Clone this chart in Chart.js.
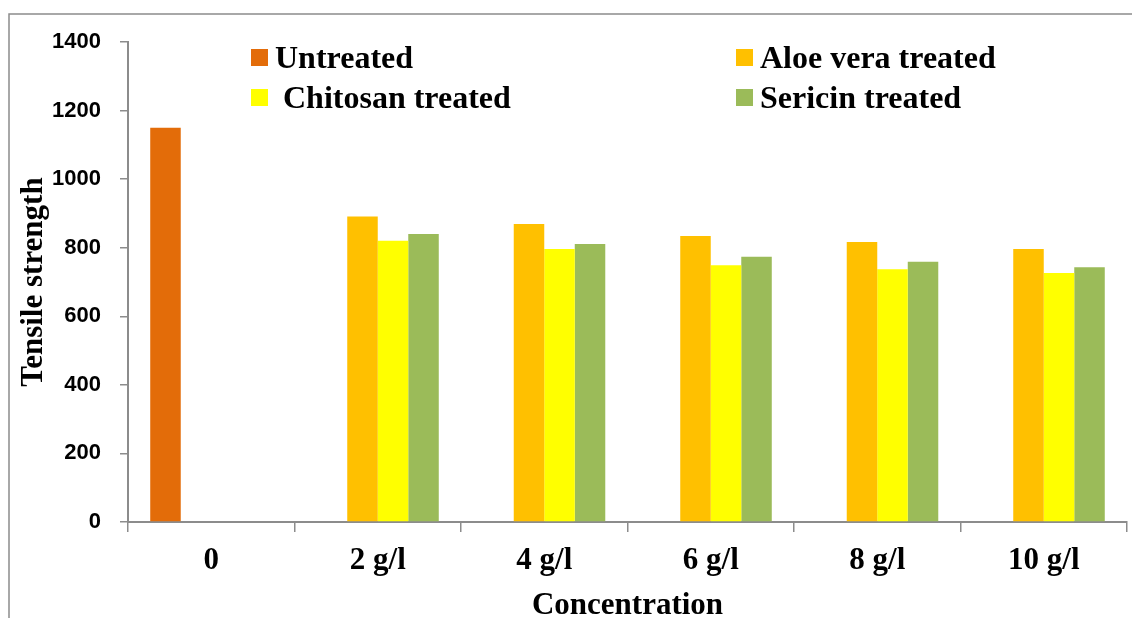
<!DOCTYPE html>
<html>
<head>
<meta charset="utf-8">
<script src="https://cdn.jsdelivr.net/npm/chart.js@4/dist/chart.umd.min.js"></script>
<style>
  html, body { margin: 0; padding: 0; background: #ffffff; }
  #wrap { width: 1132px; height: 618px; position: relative; }
</style>
</head>
<body>
<div id="wrap"><canvas id="c" width="1132" height="618"></canvas></div>
<script>
const categories = ['0', '2 g/l', '4 g/l', '6 g/l', '8 g/l', '10 g/l'];
const untreated = [1150, null, null, null, null, null];
const aloeVera  = [null, 891, 869, 834, 817, 796];
const chitosan  = [null, 820, 796, 749, 737, 726];
const sericin   = [null, 840, 811, 774, 759, 743];
const yTicks = [0, 200, 400, 600, 800, 1000, 1200, 1400];
const seriesLabels = ['Untreated', 'Aloe vera treated', ' Chitosan treated', 'Sericin treated'];
const seriesColors = ['#E36C09', '#FFC000', '#FFFF00', '#9BBB59'];

const serif = '"Liberation Serif", "Times New Roman", serif';
const sans = '"Liberation Sans", Arial, sans-serif';

const frame = {
  id: 'frame',
  beforeDraw(chart) {
    const ctx = chart.ctx;
    ctx.save();
    ctx.fillStyle = '#ffffff';
    ctx.fillRect(0, 0, chart.width, chart.height);
    ctx.strokeStyle = '#8c8c8c';
    ctx.lineWidth = 1.5;
    ctx.strokeRect(9, 14, chart.width + 20, chart.height + 20);
    ctx.restore();
  }
};

const customLegend = {
  id: 'customLegend',
  afterDraw(chart) {
    const ctx = chart.ctx;
    const a = chart.chartArea;
    const slots = [[123, 7], [608, 7], [123, 47], [608, 47]];
    ctx.save();
    ctx.font = 'bold 32px ' + serif;
    ctx.textBaseline = 'alphabetic';
    ctx.textAlign = 'left';
    chart.data.datasets.forEach((ds, i) => {
      const [dx, dy] = slots[i];
      const x = a.left + dx;
      const y = a.top + dy;
      ctx.fillStyle = ds.backgroundColor;
      ctx.fillRect(x, y, 17, 17);
      ctx.fillStyle = '#000000';
      ctx.fillText(ds.label, x + 24, y + 19);
    });
    ctx.restore();
  }
};

new Chart(document.getElementById('c'), {
  type: 'bar',
  data: {
    labels: categories,
    datasets: [
      { label: seriesLabels[0], data: untreated, backgroundColor: seriesColors[0] },
      { label: seriesLabels[1], data: aloeVera,  backgroundColor: seriesColors[1] },
      { label: seriesLabels[2], data: chitosan,  backgroundColor: seriesColors[2] },
      { label: seriesLabels[3], data: sericin,   backgroundColor: seriesColors[3] }
    ]
  },
  options: {
    responsive: false,
    animation: false,
    devicePixelRatio: 1,
    layout: { padding: { left: 0, right: 5, top: 42, bottom: 0 } },
    datasets: { bar: { categoryPercentage: 0.733, barPercentage: 1.0, borderWidth: 0 } },
    plugins: {
      legend: { display: false },
      tooltip: { enabled: false }
    },
    scales: {
      x: {
        offset: true,
        grid: { display: true, drawOnChartArea: false, drawTicks: true, tickLength: 10, color: '#8c8c8c', lineWidth: 1.5, offset: true },
        border: { display: true, color: '#8c8c8c', width: 2 },
        ticks: { color: '#000000', font: { family: serif, size: 31, weight: 'bold' }, padding: 10, maxRotation: 0 },
        title: { display: true, text: 'Concentration', color: '#000000', font: { family: serif, size: 31, weight: 'bold', lineHeight: 1.0 }, padding: { top: 0, bottom: -3 } },
        afterFit(scale) { scale.height = 96; }
      },
      y: {
        min: 0,
        max: 1400,
        afterBuildTicks(scale) { scale.ticks = yTicks.map(v => ({ value: v })); },
        grid: { display: true, drawOnChartArea: false, drawTicks: true, tickLength: 8, color: '#8c8c8c', lineWidth: 1.5 },
        border: { display: true, color: '#8c8c8c', width: 2 },
        ticks: { color: '#000000', font: { family: sans, size: 22, weight: 'bold' }, padding: 19, callback: (v) => String(v) },
        title: { display: true, text: 'Tensile strength', color: '#000000', font: { family: serif, size: 31, weight: 'bold', lineHeight: 1.0 }, padding: { top: 18, bottom: 0 } },
        afterFit(scale) { scale.width = 128; }
      }
    }
  },
  plugins: [frame, customLegend]
});
</script>
</body>
</html>
